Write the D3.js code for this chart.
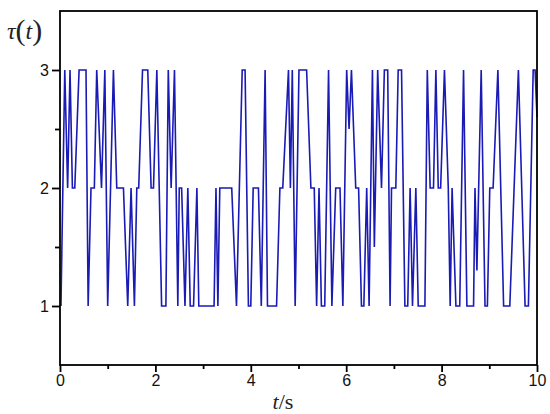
<!DOCTYPE html>
<html><head><meta charset="utf-8">
<script src="https://cdn.jsdelivr.net/npm/d3@7"></script>
<style>body{margin:0;background:#fff}svg{display:block}</style>
</head><body>
<svg id="c" width="550" height="414"></svg>
<script>
const times = [0.02,0.10,0.16,0.21,0.26,0.31,0.40,0.545,0.59,0.65,0.72,0.77,0.87,0.94,1.00,1.12,1.19,1.33,1.42,1.49,1.56,1.61,1.65,
1.73,1.84,1.91,1.96,2.03,2.13,2.22,2.27,2.33,2.40,2.47,2.50,2.55,2.62,2.68,2.73,2.80,2.87,2.91,3.23,3.27,3.31,3.35,
3.60,3.70,3.82,3.88,3.95,4.00,4.05,4.16,4.22,4.30,4.35,4.54,4.61,4.67,4.79,4.83,4.87,4.93,
5.01,5.17,5.26,5.33,5.38,5.43,5.48,5.55,5.63,5.70,5.78,5.87,5.93,6.01,6.06,6.11,6.20,6.26,6.32,6.37,6.43,6.48,6.55,6.59,
6.66,6.74,6.80,6.87,6.92,6.95,7.04,7.09,7.16,7.23,7.29,7.34,7.39,7.46,7.51,7.65,7.70,7.76,7.83,7.88,7.93,7.98,8.06,8.14,8.18,8.22,8.30,
8.38,8.46,8.53,8.67,8.70,8.74,8.83,8.91,8.96,9.01,9.08,9.18,9.30,9.43,9.61,9.75,9.82,9.92,9.96,10.0];
const tauValues = [1,3,2,3,2,2,3,3,1,2,2,3,2,3,1,3,2,2,1,2,1,2,2,
3,3,2,2,3,1,1,3,2,3,1,2,2,1,2,1,1,2,1,1,2,1,2,
2,1,3,3,1,1,2,2,1,3,1,1,2,2,3,2,3,1,
3,3,2,2,1,2,1,1,3,1,2,2,1,3,2.5,3,2,2,1,1,2,1,3,1.5,
3,2,3,3,1,2,2,3,3,1,1,2,1,2,1,1,3,2,2,3,2,2,3,2,1,2,1,
1,3,1,1,2,1.3,3,1,1,2,2,3,1,1,3,1,1,3,3,2.6];
const xMajor = [0,2,4,6,8,10];
const xMinor = [1,3,5,7,9];
const yMajor = [1,2,3];
const yMinor = [1.5,2.5];

const L=60,R=537,T=11,B=365;
const svg=d3.select("#c");
const x=d3.scaleLinear().domain([0,10]).range([L,R]);
const y=d3.scaleLinear().domain([0.5,3.5]).range([B,T]);
const data=times.map((t,i)=>({t,v:tauValues[i]}));

svg.append("path").datum(data)
  .attr("fill","none").attr("stroke","#1a1ab4").attr("stroke-width",1.6)
  .attr("stroke-linejoin","miter")
  .attr("d",d3.line().x(d=>x(d.t)).y(d=>y(d.v)));

svg.append("rect").attr("x",L).attr("y",T).attr("width",R-L).attr("height",B-T)
  .attr("fill","none").attr("stroke","#000").attr("stroke-width",1.8);

const font="'Liberation Sans', Arial, sans-serif";
const gx=svg.append("g").attr("transform",`translate(0,${B})`)
  .call(d3.axisBottom(x).tickValues(xMajor).tickSize(7).tickPadding(3).tickFormat(d3.format("d")));
const gx2=svg.append("g").attr("transform",`translate(0,${B})`)
  .call(d3.axisBottom(x).tickValues(xMinor).tickSize(4).tickFormat(""));
const gy=svg.append("g").attr("transform",`translate(${L},0)`)
  .call(d3.axisLeft(y).tickValues(yMajor).tickSize(8).tickPadding(3).tickFormat(d3.format("d")));
const gy2=svg.append("g").attr("transform",`translate(${L},0)`)
  .call(d3.axisLeft(y).tickValues(yMinor).tickSize(5).tickFormat(""));
[gx,gx2,gy,gy2].forEach(g=>{
  g.select(".domain").remove();
  g.selectAll("line").attr("stroke","#000").attr("stroke-width",1.8);
  g.selectAll("text").attr("font-family",font).attr("font-size",16).attr("fill","#111");
});

svg.append("text").attr("x",283).attr("y",409).attr("text-anchor","middle")
  .attr("font-family","'Liberation Serif','Times New Roman',serif").attr("font-size",22).attr("fill","#222")
  .html('<tspan font-style="italic">t</tspan>/s');

svg.append("text").attr("x",7).attr("y",39)
  .attr("font-family","'Liberation Serif','Times New Roman',serif").attr("font-size",24).attr("fill","#222")
  .html('<tspan font-style="italic">τ</tspan><tspan font-size="30" dy="1">(</tspan><tspan font-style="italic" dy="-1">t</tspan><tspan font-size="30" dy="1">)</tspan>');
</script>
</body></html>
